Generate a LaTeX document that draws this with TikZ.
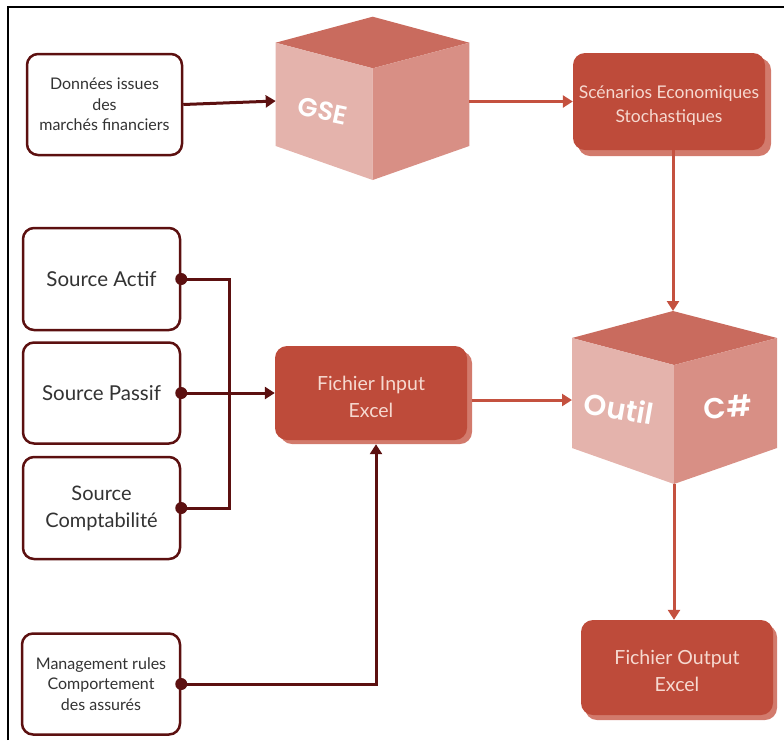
\documentclass[tikz,border=0pt]{standalone}
\usepackage{fontspec}
\setmainfont{Lato}
\newfontfamily\cubefont{Poppins SemiBold}
\usetikzlibrary{arrows.meta,calc}
\definecolor{darkc}{HTML}{5C1010}
\definecolor{boxred}{HTML}{BE4B3A}
\definecolor{shadowred}{HTML}{D27A6C}
\definecolor{linered}{HTML}{C4513F}
\definecolor{cubetop}{HTML}{C96B5E}
\definecolor{cubeleft}{HTML}{E4B3AC}
\definecolor{cuberight}{HTML}{D88F85}
\definecolor{lighttxt}{HTML}{F6D9D0}
\definecolor{graytxt}{HTML}{333333}
\tikzset{
  whitebox/.style={draw=darkc, line width=2.5pt, rounded corners=11pt, fill=white,
    text=graytxt, align=center, minimum width=157pt, inner sep=2pt},
  redbox/.style={fill=boxred, rounded corners=12pt, minimum width=192pt, inner sep=2pt},
  redtext/.style={text=lighttxt, align=center, inner sep=1pt},
  redshadow/.style={fill=shadowred, rounded corners=12pt},
  darkarrow/.style={draw=darkc, line width=3pt, -{Triangle[length=10pt,width=12pt]}},
  darkline/.style={draw=darkc, line width=3pt},
  redarrow/.style={draw=linered, line width=3pt, -{Triangle[length=10pt,width=12pt]}},
  dot/.style={circle, fill=darkc, inner sep=0pt, minimum size=12pt},
  cubetext/.style={text=white}
}
\begin{document}
\begin{tikzpicture}[x=1pt,y=-1pt]
\useasboundingbox (0,0) rectangle (784,740);
% frame
\draw[black, line width=1.8pt] (8,740) -- (8,7) -- (784,7);

% white boxes
\node[whitebox, minimum width=155pt, minimum height=101pt, font=\fontsize{16}{20.5}\selectfont] (don) at (104.5,104.5) {Données issues\\des\\marchés financiers};
\node[whitebox, minimum height=102pt, font=\fontsize{20.5}{24}\selectfont] (actif) at (101.5,279) {Source Actif};
\node[whitebox, minimum height=101pt, font=\fontsize{20.5}{24}\selectfont] (passif) at (101.5,393) {Source Passif};
\node[whitebox, minimum height=102pt, font=\fontsize{20}{27}\selectfont] (compta) at (101.5,508) {Source\\Comptabilité};
\node[whitebox, minimum width=158pt, minimum height=101pt, font=\fontsize{16}{20.5}\selectfont] (mgmt) at (101,684) {Management rules\\Comportement\\des assurés};

% red boxes with shadows
\fill[redshadow] (578,58) rectangle (771,156);
\node[redbox, minimum height=97pt] (scen) at (669,101.5) {};
\node[redtext, font=\fontsize{17.5}{23.5}\selectfont] (scenT) at ([yshift=-4pt]scen.center) {Scénarios Economiques\\Stochastiques};
\fill[redshadow] (280,351) rectangle (472,444);
\node[redbox, minimum height=94pt] (input) at (371,393) {};
\node[redtext, font=\fontsize{19.5}{27}\selectfont] (inputT) at ([yshift=-4pt]input.center) {Fichier Input\\Excel};
\fill[redshadow] (585,625) rectangle (777,720);
\node[redbox, minimum height=95pt] (output) at (677,667.5) {};
\node[redtext, font=\fontsize{19.5}{27}\selectfont] (outputT) at ([yshift=-3pt]output.center) {Fichier Output\\Excel};

% GSE cube
\coordinate (gT) at (372.7,16.7);
\coordinate (gLT) at (275.7,42.7);
\coordinate (gRT) at (469.3,42.7);
\coordinate (gM) at (372.7,68.3);
\coordinate (gLB) at (275.7,146);
\coordinate (gRB) at (469.3,146);
\coordinate (gB) at (372.7,180);
\fill[cubetop] (gT) -- (gRT) -- (gM) -- (gLT) -- cycle;
\fill[cubeleft] (gLT) -- (gM) -- (gB) -- (gLB) -- cycle;
\fill[cuberight] (gM) -- (gRT) -- (gRB) -- (gB) -- cycle;
\node[cubetext, rotate=-12, font=\cubefont\fontsize{26}{28}\selectfont] (gse) at (323,111) {GSE};
\coordinate (gW) at (275.7,101);
\coordinate (gE) at (469.3,101.5);

% Outil cube
\coordinate (oT) at (673,311);
\coordinate (oLT) at (572,338);
\coordinate (oRT) at (777,338);
\coordinate (oM) at (674,365);
\coordinate (oLB) at (572,448);
\coordinate (oRB) at (777,448);
\coordinate (oB) at (674,484);
\fill[cubetop] (oT) -- (oRT) -- (oM) -- (oLT) -- cycle;
\fill[cubeleft] (oLT) -- (oM) -- (oB) -- (oLB) -- cycle;
\fill[cuberight] (oM) -- (oRT) -- (oRB) -- (oB) -- cycle;
\node[cubetext, rotate=-10, font=\cubefont\fontsize{29}{30}\selectfont] (outil) at (619,408) {Outil};
\node[cubetext, rotate=4, font=\cubefont\fontsize{29}{30}\selectfont] (csharp) at (728,407) {C\#};
\coordinate (oW) at (572,400);

% connectors
\draw[darkarrow] (don.east) -- (gW);
\draw[redarrow] (gE) -- (scen.west);
\draw[redarrow] (scen.south -| oT) -- (oT);
\draw[redarrow] ([xshift=5pt]input.east |- oW) -- (oW);
\draw[redarrow] (oB) -- (oB |- output.north);

\coordinate (bus) at (229,0);
\draw[darkline] (actif.east) -- (actif.east -| bus) -- (compta.east -| bus) -- (compta.east);
\draw[darkarrow] (passif.east) -- (input.west);
\draw[darkarrow] (mgmt.east) -| ([xshift=5pt,yshift=-4pt]input.south);
\node[dot] (d1) at (actif.east) {};
\node[dot] (d2) at (passif.east) {};
\node[dot] (d3) at (compta.east) {};
\node[dot] (d4) at (mgmt.east) {};
\end{tikzpicture}
\end{document}
